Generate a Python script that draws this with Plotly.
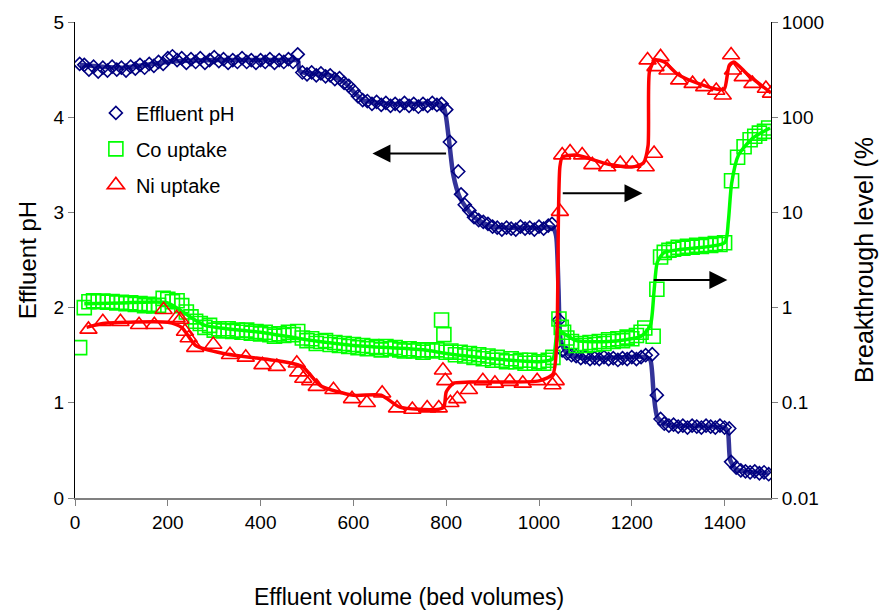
import plotly.graph_objects as go

# ---------------- data ----------------
ph_x = [10, 20, 30, 40, 50, 60, 70, 80, 90, 100, 110, 120, 130, 140, 150, 160, 170, 180, 190, 200,
        210, 220, 230, 240, 250, 260, 270, 280, 290, 300, 310, 320, 330, 340, 350, 360, 370, 380, 390, 400,
        410, 420, 430, 440, 450, 460, 470, 480, 490, 500, 510, 520, 530, 540, 550, 560, 570, 580, 590, 600,
        610, 620, 630, 640, 650, 660, 670, 680, 690, 700, 710, 720, 730, 740, 750, 760, 770, 780, 790, 800,
        808, 826, 832, 840, 850, 860, 870, 880, 890, 900, 910, 920, 930, 940, 950, 960, 970, 980, 990, 1000,
        1010, 1020, 1028, 1043, 1050, 1060, 1070, 1080, 1090, 1100, 1110, 1120, 1130, 1140, 1150, 1160, 1170,
        1180, 1190, 1200, 1210, 1220, 1230, 1244, 1254, 1262, 1270, 1280, 1290, 1300, 1310, 1320, 1330, 1340,
        1350, 1360, 1370, 1380, 1390, 1400, 1410, 1414, 1425, 1435, 1445, 1455, 1465, 1475, 1485, 1495]
ph_y = [4.56, 4.55, 4.50, 4.53, 4.48, 4.52, 4.49, 4.53, 4.50, 4.52, 4.49, 4.53, 4.51, 4.55, 4.52, 4.56, 4.54, 4.58, 4.56, 4.62,
        4.64, 4.60, 4.62, 4.57, 4.61, 4.58, 4.62, 4.57, 4.60, 4.63, 4.59, 4.61, 4.57, 4.60, 4.58, 4.62, 4.58, 4.60, 4.57, 4.60,
        4.58, 4.61, 4.57, 4.60, 4.58, 4.61, 4.58, 4.66, 4.47, 4.45, 4.47, 4.44, 4.46, 4.43, 4.44, 4.40, 4.41, 4.36, 4.33, 4.28,
        4.22, 4.18, 4.17, 4.14, 4.16, 4.13, 4.15, 4.12, 4.14, 4.12, 4.15, 4.12, 4.14, 4.11, 4.14, 4.12, 4.15, 4.13, 4.14, 4.08,
        3.74, 3.43, 3.19, 3.08, 3.02, 2.95, 2.92, 2.90, 2.88, 2.85, 2.84, 2.82, 2.84, 2.83, 2.82, 2.85, 2.83, 2.84, 2.82, 2.85,
        2.83, 2.86, 2.88, 1.87, 1.55, 1.52, 1.50, 1.49, 1.47, 1.48, 1.46, 1.47, 1.46, 1.48, 1.46, 1.47, 1.45,
        1.47, 1.46, 1.48, 1.46, 1.48, 1.50, 1.51, 1.08, 0.83, 0.78, 0.76, 0.77, 0.75, 0.76, 0.74, 0.76, 0.75,
        0.74, 0.76, 0.75, 0.74, 0.76, 0.74, 0.73, 0.38, 0.32, 0.29, 0.28, 0.27, 0.28, 0.26, 0.27, 0.25]

ph_fit_x = [10, 100, 200, 300, 470, 480, 485, 550, 580, 620, 680, 780, 795, 805, 815, 830, 860, 900, 1000,
            1030, 1037, 1042, 1047, 1060, 1100, 1230, 1240, 1247, 1255, 1275, 1400, 1407, 1412, 1425, 1495]
ph_fit_y = [4.55, 4.52, 4.58, 4.60, 4.60, 4.60, 4.48, 4.44, 4.37, 4.18, 4.14, 4.14, 4.10, 3.80, 3.40, 3.15, 2.95, 2.85, 2.84,
            2.84, 2.75, 2.20, 1.65, 1.52, 1.47, 1.48, 1.45, 1.10, 0.85, 0.77, 0.74, 0.70, 0.40, 0.30, 0.26]

co_x = [10, 20, 30, 40, 50, 60, 70, 80, 90, 100, 110, 120, 130, 140, 150, 160, 170, 180, 190, 200,
        210, 220, 230, 240, 250, 260, 270, 280, 290, 300, 310, 320, 330, 340, 350, 360, 370, 380, 390, 400,
        410, 420, 430, 440, 450, 460, 470, 480, 490, 500, 510, 520, 530, 540, 550, 560, 570, 580, 590, 600,
        610, 620, 630, 640, 650, 660, 670, 680, 690, 700, 710, 720, 730, 740, 750, 760, 770, 780, 790, 795,
        800, 810, 820, 830, 840, 850, 860, 870, 880, 890, 900, 910, 920, 930, 940, 950, 960, 970, 980, 990,
        1000, 1010, 1020, 1030, 1043, 1048, 1053, 1060, 1070, 1080, 1090, 1100, 1110, 1120, 1130, 1140, 1150,
        1160, 1170, 1180, 1190, 1200, 1210, 1220, 1228, 1246, 1254, 1262, 1270, 1280, 1290, 1300, 1310, 1320,
        1330, 1340, 1350, 1360, 1370, 1380, 1390, 1400, 1415, 1428, 1442, 1455, 1465, 1475, 1486, 1495]
co_y = [0.38, 1.00, 1.15, 1.18, 1.15, 1.17, 1.14, 1.16, 1.12, 1.14, 1.10, 1.12, 1.08, 1.10, 1.05, 1.08, 1.04, 1.06, 1.25, 1.22,
        1.15, 1.18, 1.05, 0.90, 0.80, 0.72, 0.68, 0.62, 0.65, 0.58, 0.60, 0.57, 0.60, 0.56, 0.58, 0.55, 0.58, 0.54, 0.56, 0.53,
        0.55, 0.52, 0.50, 0.53, 0.51, 0.55, 0.52, 0.56, 0.48, 0.45, 0.47, 0.42, 0.44, 0.45, 0.41, 0.43, 0.40, 0.42, 0.39, 0.41,
        0.38, 0.40, 0.37, 0.39, 0.38, 0.36, 0.39, 0.37, 0.38, 0.36, 0.35, 0.37, 0.35, 0.36, 0.34, 0.36, 0.35, 0.36, 0.74, 0.52,
        0.34, 0.35, 0.32, 0.34, 0.31, 0.33, 0.30, 0.32, 0.29, 0.31, 0.28, 0.30, 0.28, 0.27, 0.29, 0.27, 0.28, 0.26, 0.28, 0.26,
        0.27, 0.26, 0.28, 0.30, 0.76, 0.62, 0.55, 0.48, 0.44, 0.40, 0.42, 0.40, 0.43, 0.41, 0.44, 0.42, 0.46,
        0.44, 0.47, 0.45, 0.49, 0.47, 0.51, 0.55, 0.61, 0.50, 1.56, 3.4, 3.8, 4.0, 4.1, 4.3, 4.2, 4.4,
        4.3, 4.5, 4.4, 4.6, 4.5, 4.7, 4.6, 4.8, 21.5, 38, 49, 58, 63, 68, 71, 77]

co_fit_x = [20, 100, 200, 240, 280, 400, 500, 600, 750, 800, 900, 1000, 1030, 1040, 1050, 1080, 1150, 1220,
            1240, 1248, 1255, 1270, 1400, 1408, 1415, 1430, 1460, 1498]
co_fit_y = [1.10, 1.12, 1.12, 0.85, 0.65, 0.55, 0.46, 0.40, 0.36, 0.33, 0.29, 0.27, 0.29, 0.60, 0.55, 0.45, 0.44, 0.50,
            0.65, 1.5, 3.0, 3.8, 4.8, 8, 20, 40, 60, 77]

ni_x = [29, 60, 98, 138, 171, 191, 219, 227, 237, 245, 259, 298, 334, 368, 404, 435, 478, 481, 492, 507,
        521, 557, 597, 629, 662, 694, 727, 759, 784, 793, 798, 809, 824, 849, 879, 905, 937, 965, 996, 1029,
        1036, 1045, 1050, 1067, 1093, 1115, 1147, 1175, 1201, 1230, 1248, 1234, 1262, 1251, 1277, 1302, 1331,
        1356, 1382, 1396, 1414, 1418, 1439, 1460, 1489, 1500]
ni_y = [0.59, 0.71, 0.71, 0.66, 0.66, 0.95, 0.78, 0.75, 0.56, 0.48, 0.38, 0.41, 0.32, 0.30, 0.25, 0.24, 0.26, 0.21, 0.18, 0.17,
        0.148, 0.137, 0.11, 0.10, 0.126, 0.088, 0.085, 0.088, 0.088, 0.22, 0.17, 0.10, 0.11, 0.137, 0.17, 0.16, 0.167, 0.16, 0.17, 0.154,
        0.17, 10.2, 40, 43, 40, 31.6, 30, 32.6, 32.6, 30, 41.6, 398, 430, 338, 311, 245, 225,
        208, 191, 170, 450, 311, 265, 225, 200, 178]

ni_fit_x = [25, 60, 200, 230, 260, 320, 450, 490, 530, 600, 660, 700, 780, 795, 800, 815, 850, 1000, 1030, 1038,
            1042, 1045, 1050, 1080, 1150, 1200, 1225, 1235, 1238, 1250, 1270, 1300, 1350, 1390, 1400, 1410, 1420,
            1450, 1500]
ni_fit_y = [0.62, 0.68, 0.70, 0.62, 0.40, 0.33, 0.27, 0.24, 0.15, 0.12, 0.12, 0.09, 0.085, 0.09, 0.13, 0.16, 0.165, 0.17,
            0.20, 0.40, 10, 30, 38, 40, 32, 30, 33, 50, 300, 400, 380, 280, 220, 195, 200, 350, 380, 280, 180]

x_ticks = [0, 200, 400, 600, 800, 1000, 1200, 1400]
ph_ticks = [0, 1, 2, 3, 4, 5]
bt_ticks = [0.01, 0.1, 1, 10, 100, 1000]
bt_labels = ["0.01", "0.1", "1", "10", "100", "1000"]

# arrows: (tail x, head x, y-level in pH units)
arrows = [(803, 641, 3.62), (1048, 1223, 3.20), (1244, 1406, 2.29)]

FONT = "Liberation Sans, Arial, sans-serif"
PH_LINE = "#333399"
PH_MARK = "#000080"
CO = "#00FF00"
NI = "#FF0000"

fig = go.Figure()

fig.add_trace(go.Scatter(x=co_fit_x, y=co_fit_y, yaxis="y2", mode="lines",
                         line=dict(color=CO, width=3.5, shape="spline", smoothing=0.6),
                         showlegend=False, hoverinfo="skip"))
fig.add_trace(go.Scatter(x=co_x, y=co_y, yaxis="y2", mode="markers", name="Co uptake",
                         marker=dict(symbol="square-open", size=14, color=CO, line=dict(width=1.6)),
                         legendgroup="co", legendrank=2))
fig.add_trace(go.Scatter(x=ni_fit_x, y=ni_fit_y, yaxis="y2", mode="lines",
                         line=dict(color=NI, width=3.5, shape="spline", smoothing=0.6),
                         showlegend=False, hoverinfo="skip"))
fig.add_trace(go.Scatter(x=ni_x, y=ni_y, yaxis="y2", mode="markers", name="Ni uptake",
                         marker=dict(symbol="triangle-up-open", size=15, color=NI, line=dict(width=1.6)),
                         legendgroup="ni", legendrank=3))
fig.add_trace(go.Scatter(x=ph_fit_x, y=ph_fit_y, mode="lines",
                         line=dict(color=PH_LINE, width=4.5, shape="spline", smoothing=0.6),
                         showlegend=False, hoverinfo="skip"))
fig.add_trace(go.Scatter(x=ph_x, y=ph_y, mode="markers", name="Effluent pH",
                         marker=dict(symbol="diamond-open", size=10, color=PH_MARK, line=dict(width=1.6)),
                         legendgroup="ph", legendrank=1))

annotations = []
for tail, head, lvl in arrows:
    annotations.append(dict(x=head, y=lvl, ax=tail, ay=lvl, xref="x", yref="y", axref="x", ayref="y",
                            showarrow=True, arrowhead=2, arrowsize=1.8, arrowwidth=2,
                            arrowcolor="black", text=""))
annotations.append(dict(text="Effluent volume (bed volumes)", xref="paper", yref="paper",
                        x=0.48, y=-0.209, xanchor="center", yanchor="middle", showarrow=False,
                        font=dict(size=23, family=FONT, color="black")))

fig.update_layout(
    width=880, height=612,
    margin=dict(l=75, r=109, t=22, b=114, autoexpand=False),
    paper_bgcolor="white", plot_bgcolor="white",
    font=dict(family=FONT, size=19, color="black"),
    showlegend=True,
    legend=dict(x=0.03, y=0.85, xanchor="left", yanchor="top", bgcolor="rgba(0,0,0,0)",
                font=dict(size=20, family=FONT), traceorder="grouped", tracegroupgap=7,
                itemwidth=30),
    xaxis=dict(range=[0, 1500], tickvals=x_ticks, showgrid=False, zeroline=False, automargin=False,
               showline=True, linecolor="#808080", linewidth=1.5, ticks="outside", ticklen=6,
               tickcolor="#808080", tickfont=dict(size=19)),
    yaxis=dict(range=[0, 5], tickvals=ph_ticks, showgrid=False, zeroline=False, automargin=False,
               showline=True, linecolor="black", linewidth=1, ticks="outside", ticklen=6,
               tickcolor="#808080", tickfont=dict(size=19),
               title=dict(text="Effluent pH", font=dict(size=24), standoff=10)),
    yaxis2=dict(type="log", range=[-2, 3], overlaying="y", side="right", automargin=False,
                tickvals=bt_ticks, ticktext=bt_labels, showgrid=False, zeroline=False,
                showline=True, linecolor="black", linewidth=1, ticks="outside", ticklen=6,
                tickcolor="#808080", tickfont=dict(size=19),
                title=dict(text="Breakthrough level (%", font=dict(size=25), standoff=32)),
    annotations=annotations,
)

fig.write_html("out.html", config={"displayModeBar": False},
               post_script="document.body.style.margin='0';document.body.style.padding='0';")
